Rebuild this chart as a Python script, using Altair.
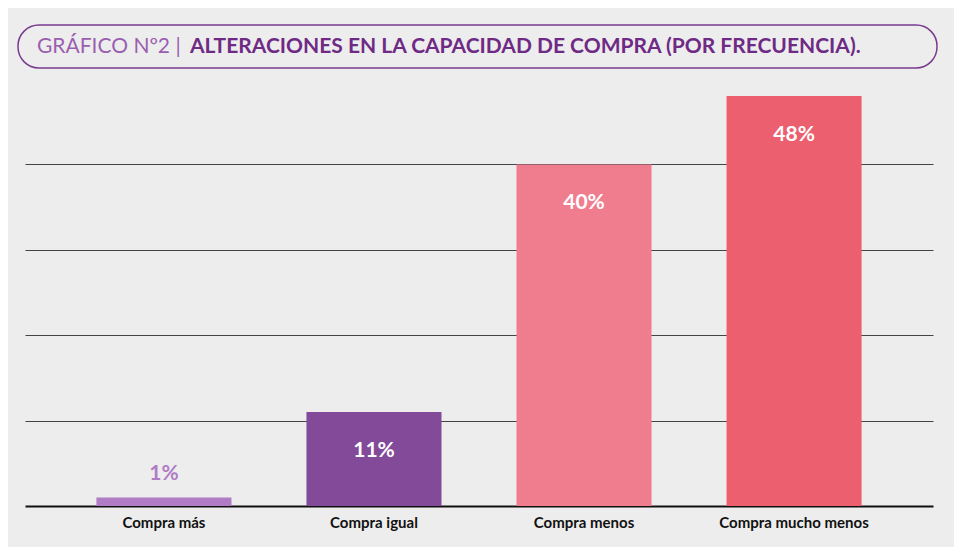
import altair as alt
import pandas as pd

categories = ["Compra más", "Compra igual", "Compra menos", "Compra mucho menos"]
values = [1, 11, 40, 48]
bar_colors = ["#b07cc6", "#834a9a", "#f07d8e", "#ec5f6e"]
label_colors = ["#b07cc6", "#ffffff", "#ffffff", "#ffffff"]
label_inside = [False, True, True, True]

df = pd.DataFrame({
    "cat": categories,
    "val": values,
    "color": bar_colors,
    "lcolor": label_colors,
    "inside": label_inside,
    "label": [f"{v}%" for v in values],
})

x = alt.X("cat:N", sort=categories, title=None,
          scale=alt.Scale(paddingInner=0.357, paddingOuter=0.34),
          axis=alt.Axis(labelAngle=0, labelFont="Lato", labelFontSize=15,
                        labelFontWeight="bold", labelColor="#111", labelPadding=9,
                        domainColor="#111", domainWidth=2, ticks=False))
y = alt.Y("val:Q", title=None,
          scale=alt.Scale(domain=[0, 50], nice=False),
          axis=alt.Axis(values=[10, 20, 30, 40], labels=False, ticks=False,
                        domain=False, grid=True, gridColor="#444", gridWidth=1))

base = alt.Chart(df)
bars = base.mark_bar().encode(x=x, y=y, color=alt.Color("color:N", scale=None))
inside = base.transform_filter("datum.inside").mark_text(
    font="Lato", fontSize=21, fontWeight="bold", dy=39
).encode(x=alt.X("cat:N", sort=categories), y="val:Q", text="label:N",
         color=alt.Color("lcolor:N", scale=None))
outside = base.transform_filter("!datum.inside").mark_text(
    font="Lato", fontSize=21, fontWeight="bold", dy=-23
).encode(x=alt.X("cat:N", sort=categories), y="val:Q", text="label:N",
         color=alt.Color("lcolor:N", scale=None))

box = alt.Chart(pd.DataFrame({"a": [0]})).mark_rect(
    fill="#ededed", stroke="#7a3b8f", strokeWidth=1.5, cornerRadius=21
).encode(x=alt.value(-7), x2=alt.value(912), y=alt.value(-54), y2=alt.value(-11))
t1 = alt.Chart(pd.DataFrame({"t": ["GRÁFICO Nº2 |"]})).mark_text(
    font="Lato", fontSize=21, color="#9b5fb0", align="left", baseline="middle"
).encode(x=alt.value(12), y=alt.value(-32), text="t:N")
t2 = alt.Chart(pd.DataFrame({"t": ["ALTERACIONES EN LA CAPACIDAD DE COMPRA (POR FRECUENCIA)."]})).mark_text(
    font="Lato", fontSize=21, fontWeight="bold", color="#6e2a85", align="left", baseline="middle"
).encode(x=alt.value(165), y=alt.value(-32), text="t:N")

chart = alt.layer(bars, inside, outside, box, t1, t2).properties(
    width=908, height=427,
    autosize=alt.AutoSizeParams(type="none"),
    padding={"left": 17, "top": 71, "right": 21, "bottom": 41},
    background="#ededed",
).configure_view(strokeWidth=0)

chart.save("out.html", embed_options={"renderer": "svg", "actions": False})
